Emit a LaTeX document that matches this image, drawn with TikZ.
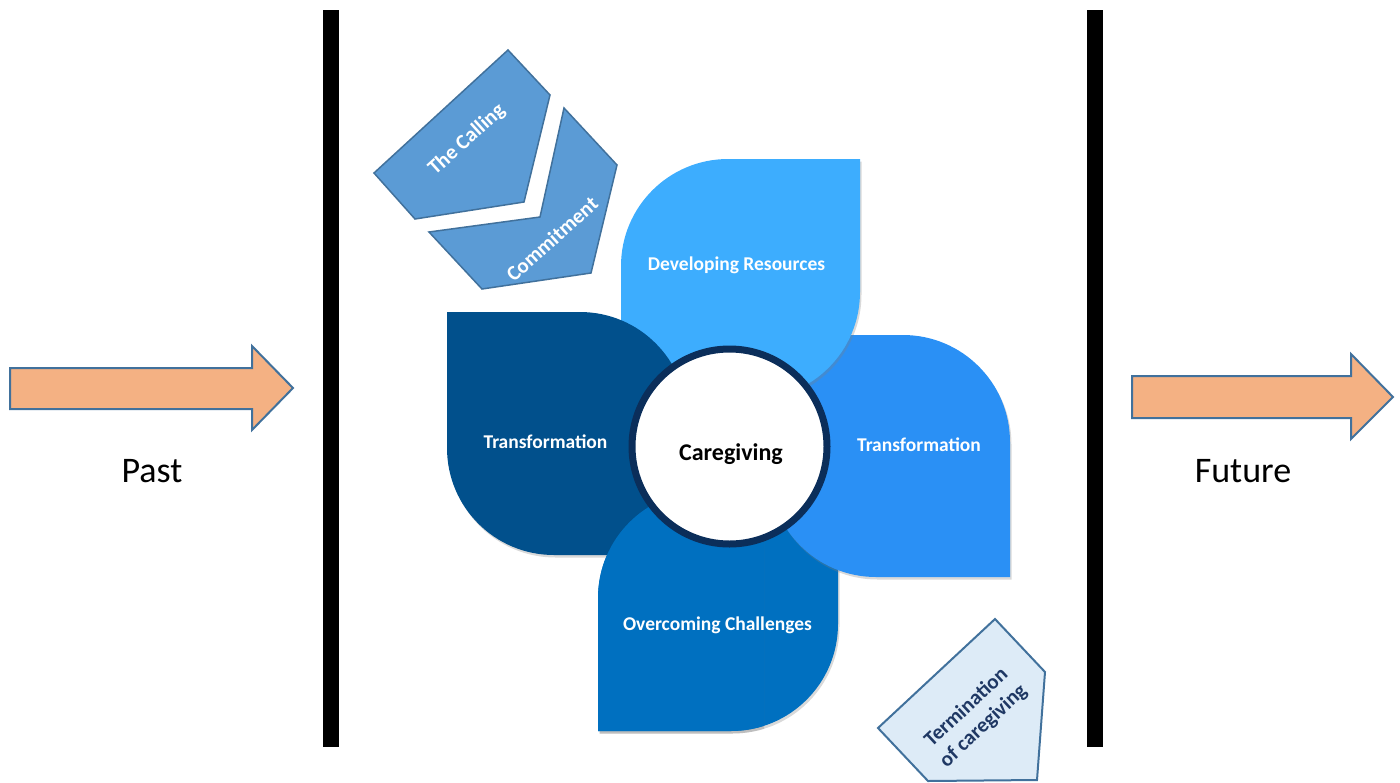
\documentclass[tikz,border=0pt]{standalone}
\usepackage{fontspec}
\setmainfont{Carlito}
\usetikzlibrary{shadows}
\definecolor{arrowfill}{HTML}{F4B183}
\definecolor{edgeblue}{HTML}{41719C}
\definecolor{chevfill}{HTML}{5B9BD5}
\definecolor{termfill}{HTML}{DDEBF7}
\definecolor{termtext}{HTML}{1F3864}
\definecolor{devblue}{HTML}{3DADFE}
\definecolor{rtblue}{HTML}{2A90F5}
\definecolor{ocblue}{HTML}{0070C0}
\definecolor{ltblue}{HTML}{01508C}
\definecolor{ringnavy}{HTML}{0B2E5A}
\begin{document}
\begin{tikzpicture}[x=1pt,y=-1pt,
  timearrow/.style={fill=arrowfill,draw=edgeblue,line width=2pt,line join=miter},
  chev/.style={fill=chevfill,draw=edgeblue,line width=1.5pt,line join=miter},
  termshape/.style={fill=termfill,draw=edgeblue,line width=2pt,line join=miter},
  petal/.style={drop shadow={shadow xshift=1.5pt,shadow yshift=-2.5pt,opacity=0.3}},
  petaltext/.style={text=white,font=\bfseries\fontsize{19.5}{22}\selectfont,inner sep=0pt},
  chevtext/.style={text=white,font=\bfseries\fontsize{21}{24}\selectfont,rotate=42,inner sep=0pt},
  timetext/.style={text=black,font=\fontsize{36}{40}\selectfont,inner sep=0pt},
  bar/.style={fill=black}]
\useasboundingbox (0,0) rectangle (1400,782);

% vertical bars
\fill[bar] (323,10) rectangle (339,747);
\fill[bar] (1087,10) rectangle (1103,747);

% time arrows
\draw[timearrow] (10,368) -- (252,368) -- (252,346) -- (293,388) -- (252,430) -- (252,409) -- (10,409) -- cycle;
\draw[timearrow] (1132,376) -- (1351,376) -- (1351,354) -- (1393,397) -- (1351,439) -- (1351,418) -- (1132,418) -- cycle;
\node[timetext,anchor=base] (past) at (152,482) {Past};
\node[timetext,anchor=base] (future) at (1243,482) {Future};

% chevrons
\draw[chev] (374,173) -- (508,50) -- (550,95) -- (524,202) -- (415,219) -- cycle;
\draw[chev] (429,232) -- (540,217) -- (564,108) -- (617,165) -- (591,273) -- (482,289) -- cycle;
\node[chevtext] (calling) at (467,140) {The Calling};
\node[chevtext] (commit) at (552,239) {Commitment};

% petals (cyclic overlap: leftT > Developing > rightT > Overcoming > leftT)
\fill[ocblue,petal] (598,731) -- (598,598) .. controls (598,538.9) and (645.9,491) .. (705,491) -- (838,491) -- (838,624) .. controls (838,683.1) and (790.1,731) .. (731,731) -- cycle;
\fill[rtblue,petal] (769,335) -- (903,335) .. controls (962.1,335) and (1010,382.9) .. (1010,442) -- (1010,577) -- (876,577) .. controls (816.9,577) and (769,529.1) .. (769,470) -- cycle;
\fill[devblue,petal] (860,159) -- (728,159) .. controls (668.9,159) and (621,206.9) .. (621,266) -- (621,399) -- (753,399) .. controls (812.1,399) and (860,351.1) .. (860,292) -- cycle;
\fill[ltblue,petal] (447,312) -- (580,312) .. controls (639.1,312) and (687,359.9) .. (687,419) -- (687,555) -- (554,555) .. controls (494.9,555) and (447,507.1) .. (447,448) -- cycle;
\begin{scope}
  \clip (560,470) rectangle (764,760);
  \fill[ocblue,petal] (598,731) -- (598,598) .. controls (598,538.9) and (645.9,491) .. (705,491) -- (838,491) -- (838,624) .. controls (838,683.1) and (790.1,731) .. (731,731) -- cycle;
\end{scope}

\node[petaltext,anchor=base] (dev) at (736.5,270.7) {Developing Resources};
\node[petaltext,anchor=base] (transL) at (545.5,448) {Transformation};
\node[petaltext,anchor=base] (transR) at (919,451.7) {Transformation};
\node[petaltext,anchor=base] (overc) at (717.5,630) {Overcoming Challenges};

% centre circle
\draw[fill=white,draw=ringnavy,line width=7pt] (729.5,446.5) circle[radius=97.5];
\node[font=\bfseries\fontsize{24}{28}\selectfont,inner sep=0pt,anchor=base] (care) at (731,460) {Caregiving};

% termination
\draw[termshape] (878,728) -- (995,619) -- (1045,672) -- (1037,780) -- (928,781) -- cycle;
\node[text=termtext,font=\bfseries\fontsize{21}{25}\selectfont,align=center,rotate=43,inner sep=0pt] (term) at (975,717) {Termination\\of caregiving};
\end{tikzpicture}
\end{document}
